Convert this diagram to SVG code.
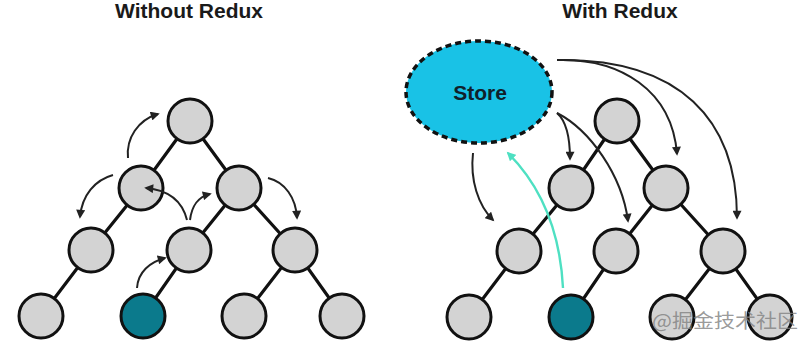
<svg xmlns="http://www.w3.org/2000/svg" width="799" height="353" viewBox="0 0 799 353">
<style>
.title{font-family:"Liberation Sans",Arial,sans-serif;font-weight:bold;font-size:21px;fill:#1a1a1a;text-anchor:middle}
.n{fill:#d3d3d3;stroke:#111;stroke-width:3}
.t{fill:#0b7a8c;stroke:#111;stroke-width:3}
.e{stroke:#111;stroke-width:3.2;fill:none}
.a{stroke:#222;stroke-width:2;fill:none;marker-end:url(#ah)}
.ta{stroke:#4ee0c2;stroke-width:2.4;fill:none;marker-end:url(#tah)}
.wm{font-family:"Noto Sans CJK SC","Liberation Sans",sans-serif;font-size:19px;fill:#808080;fill-opacity:0.8}
</style>
<defs>
<marker id="ah" viewBox="0 0 10 10" refX="8" refY="5" markerWidth="10" markerHeight="9" markerUnits="userSpaceOnUse" orient="auto">
<path d="M0,0 L10,5 L0,10 z" fill="#222"/>
</marker>
<marker id="tah" viewBox="0 0 10 10" refX="8" refY="5" markerWidth="10" markerHeight="9" markerUnits="userSpaceOnUse" orient="auto">
<path d="M0,0 L10,5 L0,10 z" fill="#4ee0c2"/>
</marker>
</defs>
<rect width="799" height="353" fill="#fff"/>
<text class="title" x="189" y="18">Without Redux</text>
<text class="title" x="620" y="18">With Redux</text>

<g id="connectors">
<path class="e" d="M190,121 L141,188 M190,121 L239,188 M141,188 L91,250 M239,188 L189,250 M239,188 L295,250 M91,250 L41,316 M189,250 L143,316 M295,250 L244,316 M295,250 L342,316"/>
<path class="e" d="M617,121 L571,188 M617,121 L666,188 M571,188 L519,251 M666,188 L616,251 M666,188 L723,251 M519,251 L469,317 M616,251 L571,317 M723,251 L672,317 M723,251 L770,317"/>
</g>

<g id="left-tree">
<circle id="l-root" class="n" cx="190" cy="121" r="22"/>
<circle id="l-a" class="n" cx="141" cy="188" r="22"/>
<circle id="l-b" class="n" cx="239" cy="188" r="22"/>
<circle id="l-c" class="n" cx="91" cy="250" r="22"/>
<circle id="l-d" class="n" cx="189" cy="250" r="22"/>
<circle id="l-e" class="n" cx="295" cy="250" r="22"/>
<circle id="l-f" class="n" cx="41" cy="316" r="22"/>
<circle id="l-g" class="t" cx="143" cy="316" r="22"/>
<circle id="l-h" class="n" cx="244" cy="316" r="22"/>
<circle id="l-i" class="n" cx="342" cy="316" r="22"/>
</g>

<g id="right-tree">
<circle id="r-root" class="n" cx="617" cy="121" r="22"/>
<circle id="r-a" class="n" cx="571" cy="188" r="22"/>
<circle id="r-b" class="n" cx="666" cy="188" r="22"/>
<circle id="r-c" class="n" cx="519" cy="251" r="22"/>
<circle id="r-d" class="n" cx="616" cy="251" r="22"/>
<circle id="r-e" class="n" cx="723" cy="251" r="22"/>
<circle id="r-f" class="n" cx="469" cy="317" r="22"/>
<circle id="r-g" class="t" cx="571" cy="317" r="22"/>
<circle id="r-h" class="n" cx="672" cy="317" r="22"/>
<circle id="r-i" class="n" cx="770" cy="317" r="22"/>
</g>

<g id="store">
<ellipse cx="479" cy="92" rx="73" ry="51" fill="#19c2e6" stroke="#111" stroke-width="3.5" stroke-dasharray="6 4"/>
<text x="480" y="100" font-family="Liberation Sans,Arial,sans-serif" font-weight="bold" font-size="21" fill="#10202a" text-anchor="middle">Store</text>
</g>

<g id="arrows">
<path class="a" d="M128,158 C126,138 138,120 158,114"/>
<path class="a" d="M113,175 C95,180 82,195 80,217"/>
<path class="a" d="M187,220 C182,200 168,190 146,188"/>
<path class="a" d="M190,220 C192,205 198,197 210,194"/>
<path class="a" d="M268,178 C285,182 296,198 297,218"/>
<path class="a" d="M137,288 C138,272 150,262 165,258"/>
<path class="a" d="M557,60 C620,58 672,90 677,154"/>
<path class="a" d="M557,60 C680,58 737,120 737,218"/>
<path class="a" d="M557,113 C565,120 570,135 570,159"/>
<path class="a" d="M557,113 C590,130 622,175 628,221"/>
<path class="a" d="M473,153 C470,180 478,205 493,220"/>
<path class="ta" d="M563,288 C560,230 540,185 508,153"/>
</g>

<text class="wm" x="652" y="328" textLength="146" lengthAdjust="spacingAndGlyphs">@掘金技术社区</text>
</svg>
